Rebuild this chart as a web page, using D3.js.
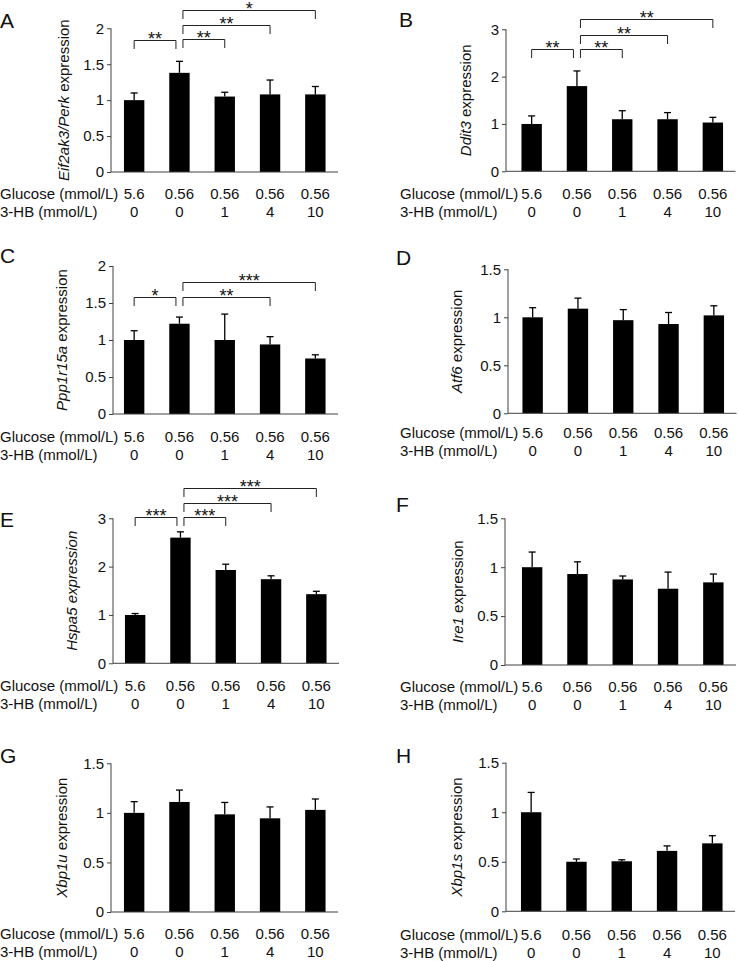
<!DOCTYPE html>
<html><head><meta charset="utf-8">
<script src="https://cdn.jsdelivr.net/npm/d3@7"></script>
<style>body{margin:0;background:#fff}svg{display:block}text{font-family:Arial,"Liberation Sans",sans-serif}</style>
</head><body>
<svg id="fig" width="738" height="961"></svg>
<script>
// ---- data ----
const glucose = ["5.6", "0.56", "0.56", "0.56", "0.56"];
const hb = ["0", "0", "1", "4", "10"];
const rowLabels = ["Glucose (mmol/L)", "3-HB (mmol/L)"];

const perkMean  = [1.00, 1.38, 1.05, 1.08, 1.08];
const perkErr   = [0.10, 0.16, 0.06, 0.20, 0.11];
const ddit3Mean = [1.00, 1.80, 1.10, 1.10, 1.03];
const ddit3Err  = [0.17, 0.32, 0.18, 0.14, 0.11];
const ppp1Mean  = [1.00, 1.22, 1.00, 0.94, 0.75];
const ppp1Err   = [0.125, 0.09, 0.35, 0.105, 0.05];
const atf6Mean  = [1.00, 1.09, 0.97, 0.93, 1.02];
const atf6Err   = [0.10, 0.11, 0.11, 0.12, 0.10];
const hspa5Mean = [1.00, 2.60, 1.93, 1.74, 1.43];
const hspa5Err  = [0.03, 0.12, 0.12, 0.07, 0.06];
const ire1Mean  = [1.00, 0.93, 0.875, 0.78, 0.845];
const ire1Err   = [0.155, 0.125, 0.035, 0.17, 0.085];
const xbp1uMean = [1.00, 1.11, 0.985, 0.945, 1.03];
const xbp1uErr  = [0.113, 0.12, 0.12, 0.115, 0.11];
const xbp1sMean = [1.00, 0.50, 0.505, 0.61, 0.686];
const xbp1sErr  = [0.20, 0.028, 0.015, 0.05, 0.077];

const ticksA = [0, 0.5, 1, 1.5, 2];
const ticksB = [0, 1, 2, 3];
const ticks15 = [0, 0.5, 1, 1.5];

// significance brackets: [from, to, level (y value), label]
const sigA = [[0,1,1.84,"**"],[1,2,1.85,"**"],[1,3,2.05,"**"],[1,4,2.26,"*"]];
const sigB = [[0,1,2.585,"**"],[1,2,2.585,"**"],[1,3,2.88,"**"],[1,4,3.22,"**"]];
const sigC = [[0,1,1.585,"*"],[1,3,1.585,"**"],[1,4,1.79,"***"]];
const sigE = [[0,1,3.035,"***"],[1,2,3.035,"***"],[1,3,3.32,"***"],[1,4,3.62,"***"]];

// ---- panels (layout) ----
const panels = [
 {letter:"A", gene:"Eif2ak3/Perk", allItalic:false, mean:perkMean, err:perkErr, ticks:ticksA, sig:sigA,
  axisX:111, xStart:111.5, y0:172, yTop:28.3, lx:0, ly:28, labX:64, gy:198.5},
 {letter:"B", gene:"Ddit3", allItalic:false, mean:ddit3Mean, err:ddit3Err, ticks:ticksB, sig:sigB,
  axisX:506, xStart:509, y0:171.3, yTop:29.3, lx:399, ly:27, labX:466, gy:198.5},
 {letter:"C", gene:"Ppp1r15a", allItalic:false, mean:ppp1Mean, err:ppp1Err, ticks:ticksA, sig:sigC,
  axisX:113, xStart:111.5, y0:414, yTop:266, lx:0, ly:263, labX:62, gy:442},
 {letter:"D", gene:"Atf6", allItalic:false, mean:atf6Mean, err:atf6Err, ticks:ticks15, sig:[],
  axisX:508, xStart:510, y0:413.3, yTop:269.3, lx:396, ly:265, labX:457, gy:437.5},
 {letter:"E", gene:"Hspa5", allItalic:true, mean:hspa5Mean, err:hspa5Err, ticks:ticksB, sig:sigE,
  axisX:113, xStart:112.5, y0:663.3, yTop:518.3, lx:0, ly:527, labX:72, gy:691},
 {letter:"F", gene:"Ire1", allItalic:false, mean:ire1Mean, err:ire1Err, ticks:ticks15, sig:[],
  axisX:505, xStart:509.5, y0:665, yTop:518.3, lx:396, ly:512, labX:458, gy:692},
 {letter:"G", gene:"Xbp1u", allItalic:false, mean:xbp1uMean, err:xbp1uErr, ticks:ticks15, sig:[],
  axisX:111, xStart:111.5, y0:912, yTop:763.3, lx:0, ly:763, labX:62, gy:938.5},
 {letter:"H", gene:"Xbp1s", allItalic:false, mean:xbp1sMean, err:xbp1sErr, ticks:ticks15, sig:[],
  axisX:506, xStart:508.5, y0:911.3, yTop:762.7, lx:396, ly:763, labX:457, gy:939.5}
];

const svg = d3.select("#fig");
const axisColor = "#404040";
const txtColor = "#111";
const idx = d3.range(glucose.length);

panels.forEach(p => {
  const g = svg.append("g");
  const x = d3.scaleBand().domain(idx).range([p.xStart, p.xStart + 226.5])
              .paddingInner(0.55).paddingOuter(0.275);
  const y = d3.scaleLinear().domain([0, d3.max(p.ticks)]).range([p.y0, p.yTop]);
  const cx = i => x(i) + x.bandwidth() / 2;

  // y axis
  const ya = g.append("g").attr("transform", `translate(${p.axisX},0)`)
    .call(d3.axisLeft(y).tickValues(p.ticks).tickFormat(d3.format("~g")).tickSize(4).tickPadding(3));
  ya.select(".domain").attr("d", `M-0.0,${y(0)}V${y(d3.max(p.ticks))}`).attr("stroke", axisColor);
  ya.selectAll(".tick line").attr("stroke", axisColor);
  ya.selectAll(".tick text").attr("font-size", 15).attr("fill", txtColor)
    .attr("font-family", "Arial, 'Liberation Sans', sans-serif");

  // bars
  g.selectAll("rect.bar").data(p.mean).join("rect")
    .attr("x", (d,i) => x(i)).attr("width", x.bandwidth())
    .attr("y", d => y(d)).attr("height", d => y(0) - y(d)).attr("fill", "#000");

  // error bars (upper)
  p.mean.forEach((m, i) => {
    const top = y(m + p.err[i]);
    g.append("line").attr("x1", cx(i)).attr("x2", cx(i)).attr("y1", y(m)).attr("y2", top)
      .attr("stroke", "#000").attr("stroke-width", 1.3);
    g.append("line").attr("x1", cx(i) - 3.5).attr("x2", cx(i) + 3.5).attr("y1", top).attr("y2", top)
      .attr("stroke", "#000").attr("stroke-width", 1.3);
  });

  // x axis line
  g.append("line").attr("x1", p.axisX).attr("x2", p.xStart + 226.5)
    .attr("y1", y(0)).attr("y2", y(0)).attr("stroke", axisColor).attr("stroke-width", 1);

  // significance brackets
  p.sig.forEach(([a, b, lvl, lab]) => {
    const x1 = cx(a) + (a === 1 ? 3.5 : 0);
    const x2 = cx(b) - (b === 1 ? 3.5 : 0);
    const yy = Math.round(y(lvl)) + 0.5;
    g.append("path").attr("d", `M${x1},${yy + 8.5}V${yy}H${x2}V${yy + 8.5}`)
      .attr("fill", "none").attr("stroke", "#222").attr("stroke-width", 1);
    g.append("text").attr("x", (x1 + x2) / 2).attr("y", yy + 4.5)
      .attr("text-anchor", "middle").attr("font-size", 18).attr("fill", txtColor).text(lab);
  });

  // y label
  const lab = g.append("text")
    .attr("transform", `translate(${p.labX},${(p.y0 + p.yTop) / 2}) rotate(-90)`)
    .attr("text-anchor", "middle").attr("dy", "0.35em").attr("font-size", 15).attr("fill", txtColor);
  lab.append("tspan").attr("font-style", "italic").text(p.gene);
  lab.append("tspan").attr("font-style", p.allItalic ? "italic" : "normal").text(" expression");

  // panel letter
  g.append("text").attr("x", p.lx).attr("y", p.ly).attr("font-size", 21).attr("fill", txtColor).text(p.letter);

  // condition rows
  const rowX = p.lx < 100 ? 0 : 400;
  [glucose, hb].forEach((row, r) => {
    const yy = p.gy + r * 18;
    g.append("text").attr("x", rowX).attr("y", yy).attr("font-size", 15).attr("fill", txtColor).text(rowLabels[r]);
    g.selectAll(null).data(row).join("text")
      .attr("x", (d,i) => cx(i)).attr("y", yy).attr("text-anchor", "middle")
      .attr("font-size", 15).attr("fill", txtColor).text(d => d);
  });
});
</script>
</body></html>
